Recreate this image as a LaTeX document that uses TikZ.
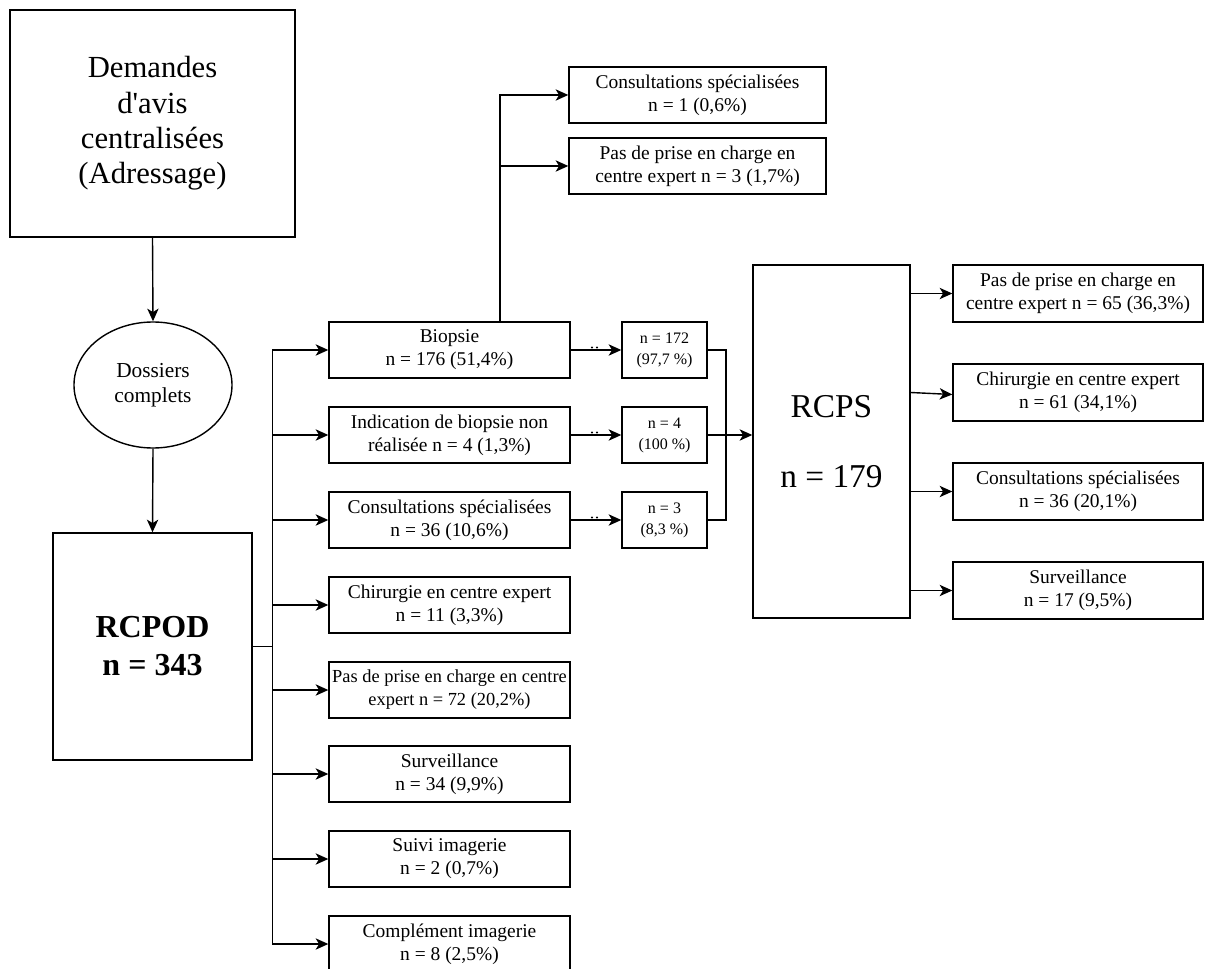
\documentclass[tikz,border=0pt]{standalone}
\usepackage{fontspec}
\setmainfont{Liberation Serif}
\newfontfamily\plainserif{Liberation Serif}
\usetikzlibrary{arrows.meta,shapes.geometric}
\begin{document}
\begin{tikzpicture}[x=0.75pt,y=-0.75pt,
  line width=1.05pt,
  box/.style={draw, line width=1.05pt, align=center, inner sep=1pt},
  mid/.style={box, minimum width=180.75pt, minimum height=42pt, font=\fontsize{14.6}{17.25}\selectfont},
  topr/.style={box, minimum width=192.75pt, minimum height=42pt, font=\fontsize{14.6}{17.25}\selectfont},
  small/.style={box, minimum width=63.75pt, minimum height=42pt, font=\fontsize{12}{15.75}\selectfont},
  rbox/.style={box, minimum width=187.5pt, minimum height=42.75pt, font=\fontsize{14.6}{17.25}\selectfont},
  arr/.style={-{Stealth[length=9.5pt,width=8.5pt,inset=2.6pt]}},
  dot/.style={fill=black, draw=none}]
\useasboundingbox (0,0) rectangle (1205,969);
\clip (0,0) rectangle (1205,969);

% left column
\node[box, minimum width=213.75pt, minimum height=170.25pt,
      font=\plainserif\fontsize{23}{26.5}\selectfont] (dem) at (152.5,123.5)
  {Demandes\\ d'avis\\ centralisées\\ (Adressage)};
\node[draw, ellipse, line width=1.05pt, align=center, inner sep=0pt,
      minimum width=118.5pt, minimum height=94.5pt,
      font=\fontsize{16}{18.5}\selectfont] (dos) at (153,385)
  {Dossiers\\ complets};
\node[box, minimum width=149.25pt, minimum height=170.25pt,
      font=\fontsize{24}{28.5}\selectfont\bfseries] (rcpod) at (152.5,646.5)
  {RCPOD\\ n = 343};

% middle column
\node[mid] (m1) at (449.5,350) {Biopsie\\ n = 176 (51,4\%)};
\node[mid] (m2) at (449.5,435) {Indication de biopsie non\\ réalisée n = 4 (1,3\%)};
\node[mid] (m3) at (449.5,520) {Consultations spécialisées\\ n = 36 (10,6\%)};
\node[mid] (m4) at (449.5,605) {Chirurgie en centre expert\\ n = 11 (3,3\%)};
\node[mid, font=\fontsize{13.8}{17.25}\selectfont] (m5) at (449.5,690) {Pas de prise en charge en centre\\ expert n = 72 (20,2\%)};
\node[mid] (m6) at (449.5,774) {Surveillance\\ n = 34 (9,9\%)};
\node[mid] (m7) at (449.5,859) {Suivi imagerie\\ n = 2 (0,7\%)};
\node[mid] (m8) at (449.5,944) {Complément imagerie\\ n = 8 (2,5\%)};

% top right of biopsie
\node[topr] (t1) at (697.5,95) {Consultations spécialisées\\ n = 1 (0,6\%)};
\node[topr] (t2) at (697.5,166) {Pas de prise en charge en\\ centre expert n = 3 (1,7\%)};

% small boxes
\node[small] (s1) at (664.5,350) {n = 172\\ (97,7 \%)};
\node[small] (s2) at (664.5,435) {n = 4\\ (100 \%)};
\node[small] (s3) at (664.5,520) {n = 3\\ (8,3 \%)};

% RCPS
\node[box, minimum width=117.75pt, minimum height=264.75pt,
      font=\fontsize{25}{52.5}\selectfont] (rcps) at (831.5,441.5)
  {RCPS\\ n = 179};

% right boxes
\node[rbox] (r1) at (1078,293.5) {Pas de prise en charge en\\ centre expert n = 65 (36,3\%)};
\node[rbox] (r2) at (1078,392.5) {Chirurgie en centre expert\\ n = 61 (34,1\%)};
\node[rbox] (r3) at (1078,491.5) {Consultations spécialisées\\ n = 36 (20,1\%)};
\node[rbox] (r4) at (1078,590.5) {Surveillance\\ n = 17 (9,5\%)};

% connectors left
\draw[arr] (dem.south) -- (dos.north);
\draw[arr] (dos.south) -- (rcpod.north);
\foreach \m in {m1,m2,m3,m4,m5,m6,m7,m8}
  \draw[arr] (rcpod.east) -- ++(20,0) |- (\m.west);

% biopsie up
\coordinate (jb) at (500,322);
\draw[arr] (jb) |- (t1.west);
\draw[arr] (jb) |- (t2.west);

% middle to small
\draw[arr] (m1.east) -- (s1.west);
\draw[arr] (m2.east) -- (s2.west);
\draw[arr] (m3.east) -- (s3.west);
\foreach \y in {350,435,520}{
  \fill[dot] (592,\y-2.5) circle (1.1);
  \fill[dot] (597,\y-2.5) circle (1.1);
}

% small to RCPS
\coordinate (jn) at (726,435);
\draw (s1.east) -| (jn) |- (s3.east);
\draw[arr] (s2.east) -- (s2.east -| rcps.west);

% RCPS to right
\draw[arr] (rcps.east |- r1.west) -- (r1.west);
\draw[arr] (rcps.east |- r2.west) -- ([yshift=-1.5pt]r2.west);
\draw[arr] (rcps.east |- r3.west) -- (r3.west);
\draw[arr] (rcps.east |- r4.west) -- (r4.west);
\end{tikzpicture}
\end{document}
